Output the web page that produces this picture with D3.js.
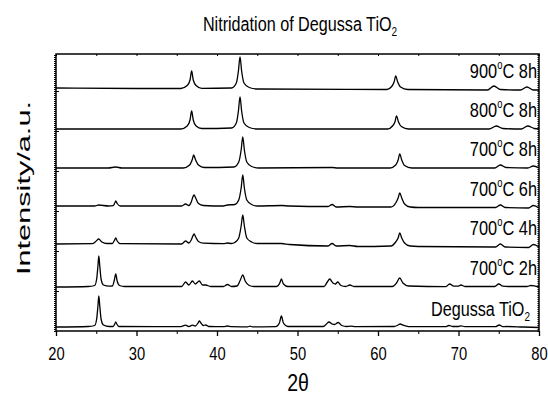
<!DOCTYPE html>
<html>
<head>
<meta charset="utf-8">
<script src="https://cdn.jsdelivr.net/npm/d3@7/dist/d3.min.js"></script>
<style>
  body { margin: 0; background: #fff; }
  text { font-family: "Liberation Sans", Arial, sans-serif; fill: #000; }
</style>
</head>
<body>
<div id="chart"></div>
<script>
// 2-theta / intensity pairs (intensity relative to each pattern's own baseline)
const degussa = [[20,0],[24,0.5],[24.8,1.5],[25.05,8],[25.2,20],[25.32,31],[25.45,20],[25.6,8],[25.9,2],[26.6,0.5],
  [27.1,0.5],[27.3,3],[27.42,5],[27.55,3],[27.8,0.5],
  [35.5,0.3],[36.1,1.8],[36.5,0.5],[36.95,1.8],[37.3,1],[37.65,4],[37.8,6],[38.0,4],[38.3,1.5],[38.6,2],[39.0,0.5],
  [40.8,0.3],[41.3,1],[41.8,0.3],[43.8,0.2],[44.1,0.8],[44.4,0.2],
  [47.3,0.3],[47.75,4],[48.0,11],[48.25,4],[48.8,0.5],
  [53.2,0.5],[53.6,3],[53.9,5],[54.3,3],[54.6,2.5],[55.05,4.5],[55.5,1.5],[56.1,0.5],[56.6,0.8],[57.2,0.3],
  [62.0,0.5],[62.5,2],[62.75,3],[63.1,1.8],[63.8,0.4],
  [68.4,0.3],[68.8,1.5],[69.3,0.5],[70.0,0.5],[70.3,1.2],[70.8,0.3],
  [74.6,0.3],[75.05,2],[75.5,0.4],[76.0,0.5],[78.0,0],[80,-0.5]];

const tio2_700_2h = [[20,0],[24,0.5],[24.8,1.5],[25.05,8],[25.2,20],[25.32,31],[25.45,20],[25.6,8],[25.9,2],[26.6,0.8],
  [27.0,1],[27.25,7],[27.42,13],[27.6,6],[27.9,1.5],[28.5,0.5],
  [35.6,0.5],[36.1,5],[36.5,2],[36.95,6],[37.3,3],[37.8,6],[38.2,2],[38.6,2],[39.2,0.5],
  [40.8,0.5],[41.3,2.5],[41.8,0.5],
  [42.5,1],[42.9,7],[43.2,12],[43.5,6],[44.0,1.5],[44.6,0.5],
  [47.4,0.5],[47.8,4],[48.0,8],[48.25,3],[48.8,0.5],
  [53.3,0.5],[53.7,5],[54.0,8],[54.4,4],[54.7,3],[55.0,5],[55.4,1.5],[56.0,0.5],[56.5,2],[57.0,0.5],
  [61.8,0.5],[62.3,4],[62.7,9],[63.1,4],[63.8,1],
  [68.4,0.3],[68.9,3],[69.4,0.8],[70.0,0.8],[70.3,2],[70.8,0.5],
  [74.5,0.5],[75.0,3],[75.5,0.8],[76.2,0.5],[78.5,0.5],[79.0,1.5],[80,0]];

const tio2_700_4h = [[20,0],[24.5,0.3],[25.0,3],[25.3,5],[25.7,2],[26.3,0.5],
  [27.0,0.5],[27.25,3.5],[27.42,6],[27.6,3],[28.0,0.3],
  [35.6,0],[36.1,3],[36.5,1],[36.8,4],[37.0,8],[37.15,10],[37.35,7],[37.7,2.5],[38.3,0.8],
  [40.8,0.3],[41.3,1],[41.8,0.5],
  [42.2,1.5],[42.7,6],[43.0,18],[43.2,29],[43.4,18],[43.7,6],[44.3,2],[45.0,0.5],
  [48.0,0.5],[49.0,-0.5],[53.8,-2],[54.3,0.5],[54.8,-2],[56.5,-1.5],[57.5,-2.5],
  [61.6,-2],[62.2,2],[62.5,6],[62.7,11],[62.95,6],[63.3,1],[64.0,-2],[65.0,-2.5],
  [74.6,-3],[75.2,0],[75.8,-3],[78.7,-3.5],[79.3,-0.5],[80,-3]];

const tio2_700_6h = [[20,0],[24.8,0],[25.3,1],[26.5,0],[27.1,0.3],[27.3,3],[27.42,5],[27.6,2.5],[28.0,0],
  [35.6,0],[36.1,2],[36.5,0.5],[36.8,4],[37.0,9],[37.15,11],[37.35,8],[37.7,2.5],[38.3,0.5],
  [40.8,0],[41.3,1],[42.2,1.5],[42.7,6],[43.0,18],[43.2,31],[43.4,18],[43.7,6],[44.3,1.5],[45.0,0],
  [48.0,0.5],[49,0],[53.8,-0.5],[54.3,1.5],[54.8,-1],[56.5,-0.5],[57.5,-1],
  [61.6,-1],[62.2,3],[62.5,8],[62.7,13],[62.95,8],[63.3,2],[64.0,-1],[65,-1.5],
  [74.6,-1.5],[75.2,1],[75.8,-1.5],[78.7,-2],[79.3,0.5],[80,-2]];

const tio2_700_8h = [[20,0],[26.5,0],[27.4,1],[28.2,0],
  [35.8,0],[36.6,3],[36.95,9],[37.1,13],[37.3,9],[37.7,3],[38.4,0.5],
  [42.1,1],[42.7,6],[43.0,18],[43.2,31],[43.4,18],[43.7,6],[44.3,1.5],[45.2,0],
  [54.3,0.5],[55,0],
  [61.5,0],[62.2,3],[62.5,8],[62.7,14],[62.95,8],[63.3,2.5],[64.2,0],
  [74.5,0],[75.2,3],[75.9,0.5],[78.6,0],[79.3,2],[80,0]];

const tio2_800_8h = [[20,0],[35.5,0],[36.3,3],[36.65,9],[36.85,18],[37.05,9],[37.4,3],[38.1,0.5],
  [41.8,1],[42.4,6],[42.66,18],[42.86,32],[43.06,18],[43.35,6],[44.0,1.5],[45.0,0],
  [61.2,0],[61.8,3],[62.1,7],[62.3,13],[62.55,7],[62.9,2.5],[63.8,0],
  [73.8,0],[74.7,3],[75.5,0.5],[77.8,0],[78.6,3],[79.4,0.5],[80,0]];

const tio2_900_8h = [[20,0],[30,-0.5],[35.5,-0.5],[36.3,2.5],[36.65,8],[36.85,17],[37.05,8],[37.4,2.5],[38.1,-0.3],
  [41.8,0],[42.4,5],[42.66,17],[42.86,31],[43.06,17],[43.35,5],[44.0,0.5],[45.0,-1],
  [61.1,-1.5],[61.7,1.5],[62.0,6],[62.2,12],[62.45,6],[62.8,1],[63.7,-1.5],
  [73.6,-2],[74.4,2],[75.2,-1.5],[77.7,-2],[78.5,1],[79.3,-2],[80,-2]];

const patterns = [degussa, tio2_700_2h, tio2_700_4h, tio2_700_6h, tio2_700_8h, tio2_800_8h, tio2_900_8h];
const offsets = [4, 44, 87, 125, 163, 202, 243];   // vertical stacking, a.u.
const temps = [null, 700, 700, 700, 700, 800, 900];
const hours = [null, 2, 4, 6, 8, 8, 8];
const xTicks = [20, 30, 40, 50, 60, 70, 80];
const xMinorTicks = [25, 35, 45, 55, 65, 75];

const W = 548, H = 396;
const plotLeft = 56, plotRight = 539, plotTop = 54, plotBottom = 331;

const svg = d3.select("#chart").append("svg")
  .attr("width", W).attr("height", H);

const x = d3.scaleLinear().domain([20, 80]).range([plotLeft, plotRight]);
const y = d3.scaleLinear().domain([0, 277]).range([plotBottom, plotTop]);

// patterns
patterns.forEach((pts, i) => {
  const line = d3.line()
    .x(d => x(d[0]))
    .y(d => y(offsets[i] + d[1]))
    .curve(d3.curveMonotoneX);
  svg.append("path")
    .datum(pts)
    .attr("fill", "none")
    .attr("stroke", "#000")
    .attr("stroke-width", 1.3)
    .attr("d", line);
});

// frame
svg.append("rect")
  .attr("x", plotLeft).attr("y", plotTop)
  .attr("width", plotRight - plotLeft).attr("height", plotBottom - plotTop)
  .attr("fill", "none").attr("stroke", "#000").attr("stroke-width", 1.5);

// bottom axis
const xAxis = svg.append("g")
  .attr("transform", `translate(0,${plotBottom})`)
  .call(d3.axisBottom(x).tickValues(xTicks).tickSize(5).tickPadding(11).tickFormat(d3.format("d")));
xAxis.select(".domain").remove();
xAxis.selectAll("line").attr("stroke-width", 1.3);
xAxis.selectAll("text")
  .attr("font-size", 18)
  .attr("font-family", "Liberation Sans, Arial, sans-serif")
  .attr("transform", "scale(0.82,1)");

svg.append("g")
  .attr("transform", `translate(0,${plotBottom})`)
  .call(d3.axisBottom(x).tickValues(xMinorTicks).tickSize(3).tickFormat(""))
  .call(g => g.select(".domain").remove());

// top axis, inward ticks
svg.append("g")
  .attr("transform", `translate(0,${plotTop})`)
  .call(d3.axisBottom(x).tickValues(xTicks.concat(xMinorTicks)).tickSize(2).tickFormat(""))
  .call(g => g.select(".domain").remove());

// left / right axes: dense little ticks (no labels)
svg.append("g")
  .attr("transform", `translate(${plotLeft},0)`)
  .call(d3.axisLeft(y).tickValues(d3.range(0, 278, 2)).tickSize(2).tickFormat(""))
  .call(g => g.select(".domain").remove());
svg.append("g")
  .attr("transform", `translate(${plotLeft},0)`)
  .call(d3.axisRight(y).tickValues([40, 80, 120, 160, 200, 240]).tickSize(3).tickFormat(""))
  .call(g => g.select(".domain").remove());
svg.append("g")
  .attr("transform", `translate(${plotRight},0)`)
  .call(d3.axisLeft(y).tickValues(d3.range(0, 278, 2)).tickSize(1.5).tickFormat(""))
  .call(g => g.select(".domain").remove());

// sample labels
patterns.forEach((pts, i) => {
  const yEnd = y(offsets[i] + pts[pts.length - 1][1]) - 12;
  if (temps[i] === null) {
    const t = svg.append("text")
      .attr("text-anchor", "end")
      .attr("font-size", 21)
      .attr("transform", `translate(530,${yEnd}) scale(0.77,1)`);
    t.append("tspan").text("Degussa TiO");
    t.append("tspan").attr("font-size", 13).attr("dy", 5).text("2");
  } else {
    const t = svg.append("text")
      .attr("text-anchor", "end")
      .attr("font-size", 21)
      .attr("transform", `translate(537,${yEnd}) scale(0.78,1)`);
    t.append("tspan").text(temps[i]);
    t.append("tspan").attr("font-size", 12).attr("dy", -9).text("o");
    t.append("tspan").attr("dy", 9).text("C " + hours[i] + "h");
  }
});

// title
const title = svg.append("text")
  .attr("text-anchor", "middle")
  .attr("font-size", 21)
  .attr("transform", `translate(300,31) scale(0.77,1)`);
title.append("tspan").text("Nitridation of Degussa TiO");
title.append("tspan").attr("font-size", 13).attr("dy", 5).text("2");

// axis titles
svg.append("text")
  .attr("text-anchor", "middle")
  .attr("font-size", 23)
  .attr("transform", "translate(298,391) scale(0.85,1)")
  .text("2θ");

svg.append("text")
  .attr("text-anchor", "middle")
  .attr("font-size", 24)
  .attr("textLength", 174)
  .attr("lengthAdjust", "spacingAndGlyphs")
  .attr("transform", "translate(30,188) scale(0.8,1) rotate(-90)")
  .text("Intensity/a.u.");
</script>
</body>
</html>
